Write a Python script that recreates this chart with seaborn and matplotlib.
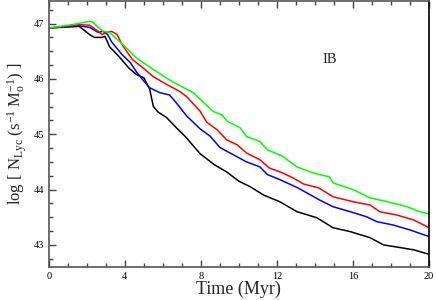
import numpy as np
import pandas as pd
import seaborn as sns
import matplotlib
matplotlib.use("Agg")
import matplotlib.pyplot as plt
from matplotlib.ticker import MultipleLocator

# ── Data ─────────────────────────────────────────────────────────────────────
black_t = [0, 1.6, 2.15, 2.4, 2.8, 2.95, 3.2, 3.7, 4.2, 4.6, 5.0, 5.3, 5.5, 5.75,
           6.2, 6.7, 7.2, 7.95, 8.7, 9.35, 10.0, 10.6, 11.3, 12.15, 13.05, 14.1,
           14.95, 15.85, 16.9, 17.6, 18.5, 19.2, 20.0]
black_y = [46.92, 46.95, 46.8, 46.75, 46.75, 46.77, 46.58, 46.4, 46.2, 46.08,
           46.02, 45.82, 45.5, 45.4, 45.3, 45.12, 44.95, 44.65, 44.45, 44.32,
           44.15, 44.05, 43.9, 43.78, 43.6, 43.49, 43.31, 43.24, 43.13, 43.0,
           42.95, 42.91, 42.83]

blue_t = [0, 1.6, 2.15, 2.6, 2.85, 3.1, 3.3, 3.85, 4.3, 4.6, 4.95, 5.3, 5.85,
          6.35, 6.7, 7.25, 7.95, 8.5, 9.0, 9.7, 10.4, 11.1, 11.5, 12.15, 13.1,
          14.25, 14.95, 15.85, 16.7, 17.25, 18.1, 19.0, 20.0]
blue_y = [46.92, 46.96, 46.93, 46.84, 46.86, 46.8, 46.67, 46.44, 46.29, 46.13,
          45.98, 45.84, 45.75, 45.71, 45.57, 45.33, 45.1, 44.96, 44.76, 44.63,
          44.5, 44.41, 44.27, 44.18, 44.03, 43.81, 43.69, 43.6, 43.51, 43.42,
          43.36, 43.27, 43.15]

red_t = [0, 1.6, 2.15, 2.6, 2.8, 3.05, 3.3, 3.6, 3.85, 4.4, 4.95, 5.5, 6.2,
         6.9, 7.25, 7.95, 8.3, 8.85, 9.35, 9.9, 10.4, 11.1, 11.6, 12.3, 12.85,
         13.4, 14.2, 14.95, 16.0, 16.9, 17.4, 18.3, 19.2, 20.0]
red_y = [46.92, 46.98, 46.97, 46.86, 46.8, 46.84, 46.86, 46.8, 46.62, 46.35,
         46.2, 46.04, 45.9, 45.77, 45.68, 45.42, 45.22, 45.08, 44.9, 44.81,
         44.66, 44.54, 44.39, 44.3, 44.21, 44.1, 44.03, 43.87, 43.78, 43.72,
         43.6, 43.54, 43.45, 43.31]

green_t = [0, 1.2, 2.15, 2.3, 2.6, 2.85, 3.2, 3.9, 4.6, 5.5, 6.5, 7.6, 8.0,
           8.65, 9.1, 9.4, 10.05, 10.4, 11.1, 11.5, 12.3, 13.05, 13.9, 14.75,
           14.95, 16.0, 16.9, 17.8, 18.85, 19.5, 20.0]
green_y = [46.92, 46.98, 47.04, 47.03, 46.93, 46.86, 46.84, 46.62, 46.38, 46.17,
           45.95, 45.75, 45.62, 45.41, 45.35, 45.23, 45.12, 44.96, 44.87, 44.72,
           44.6, 44.41, 44.3, 44.23, 44.12, 44.0, 43.85, 43.78, 43.69, 43.6,
           43.56]

series = [("black", black_t, black_y), ("blue", blue_t, blue_y),
          ("red", red_t, red_y), ("green", green_t, green_y)]
colors = {"black": "#000000", "blue": "#0000ff", "red": "#ff0000", "green": "#00ff00"}

df = pd.concat(
    [pd.DataFrame({"t": t, "logN": y, "model": name}) for name, t, y in series],
    ignore_index=True,
)

# ── Style ────────────────────────────────────────────────────────────────────
sns.set_style("ticks")
plt.rcParams["font.family"] = ["Liberation Serif", "DejaVu Serif"]
plt.rcParams["mathtext.fontset"] = "custom"
plt.rcParams["mathtext.rm"] = "Liberation Serif"
plt.rcParams["mathtext.it"] = "Liberation Serif:italic"

fig = plt.figure(figsize=(4.36, 3.0), dpi=100)
ax = fig.add_axes([0.112, 0.11, 0.872, 0.887])

sns.lineplot(data=df, x="t", y="logN", hue="model", palette=colors,
             sort=False, estimator=None, linewidth=1.1, legend=False, ax=ax)

ax.set_xlim(0, 20)
ax.set_ylim(42.6, 47.41)
ax.xaxis.set_major_locator(MultipleLocator(4))
ax.xaxis.set_minor_locator(MultipleLocator(1))
ax.yaxis.set_major_locator(MultipleLocator(1))
ax.yaxis.set_minor_locator(MultipleLocator(0.25))
ax.tick_params(which="both", direction="in", top=True, right=False,
               colors="#444444", labelcolor="black", labelsize=7.5)
ax.tick_params(which="major", length=5, width=1)
ax.tick_params(which="minor", length=3, width=1)
for side in ["left", "bottom", "top"]:
    ax.spines[side].set_color("#555555")
    ax.spines[side].set_linewidth(1.2)
ax.spines["right"].set_color("black")
ax.spines["right"].set_linewidth(1.2)

ax.set_xlabel("Time (Myr)", fontsize=13, labelpad=0)
ax.set_ylabel(r"log [ N$_{\mathrm{Lyc}}$ (s$^{-1}$ M$_{\mathrm{o}}^{-1}$) ]",
              fontsize=12, labelpad=3)
ax.text(14.8, 46.35, "IB", fontsize=10.5, ha="center", va="center")

fig.savefig("out.png", dpi=100)
